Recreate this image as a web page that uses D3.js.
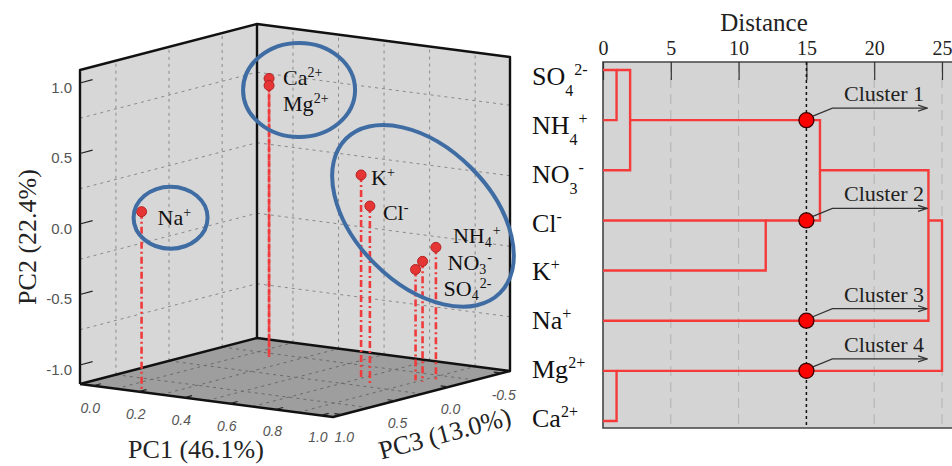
<!DOCTYPE html>
<html>
<head>
<meta charset="utf-8">
<script src="https://cdn.jsdelivr.net/npm/d3@7"></script>
<style>
body { margin: 0; background: #fff; }
svg { display: block; }
</style>
</head>
<body>
<script>
// Data {{{1
// PCA loadings, one entry per ion
const ionBase = ["Na", "Ca", "Mg", "K", "Cl", "NH", "NO", "SO"];
const ionSub  = ["", "", "", "", "", "4", "3", "4"];
const ionSup  = ["+", "2+", "2+", "+", "-", "+", "-", "2-"];
const pc1 = [0.19, 0.19, 0.19, 0.72, 0.81, 0.96, 0.92, 0.88];
const pc2 = [0.13, 0.84, 0.79, 0.32, 0.14, -0.18, -0.28, -0.35];
const pc3 = [1.04, -0.16, -0.16, 0.11, 0.22, -0.08, -0.04, -0.06];
const pc1Ticks = [0.0, 0.2, 0.4, 0.6, 0.8, 1.0];
const pc2Ticks = [-1.0, -0.5, 0.0, 0.5, 1.0];
const pc3Ticks = [1.0, 0.5, 0.0, -0.5];
const pc1Grid = [0.1, 0.3, 0.5, 0.7, 0.9];
const pc2Grid = [-0.75, -0.25, 0.25, 0.75];
const pc3Grid = [0.75, 0.25, -0.25];
const ionGroups = [[0], [1, 2], [3, 4, 5, 6, 7]];

// dendrogram, leaves top to bottom; merges are [child, child, distance], new nodes numbered from 8
const leafBase = ["SO", "NH", "NO", "Cl", "K", "Na", "Mg", "Ca"];
const leafSub  = ["4", "4", "3", "", "", "", "", ""];
const leafSup  = ["2-", "+", "-", "-", "+", "+", "2+", "2+"];
const merges = [[0, 1, 1.0], [8, 2, 2.0], [3, 4, 12.0], [9, 10, 16.0], [11, 5, 24.0], [6, 7, 1.0], [12, 13, 25.0]];
const distTicks = [0, 5, 10, 15, 20, 25];
const cutDistance = 15;
const clusterNames = ["Cluster 1", "Cluster 2", "Cluster 3", "Cluster 4"];

// Setup {{{1
const W = 952, H = 466;
const SERIF = "'Liberation Serif', 'Times New Roman', serif";
const SANS = "'Liberation Sans', Arial, sans-serif";
const svg = d3.select("body").append("svg").attr("width", W).attr("height", H);

svg.append("defs").append("marker")
    .attr("id", "arrow")
    .attr("viewBox", [0, 0, 10, 8])
    .attr("refX", 9).attr("refY", 4)
    .attr("markerWidth", 10).attr("markerHeight", 8)
    .attr("markerUnits", "userSpaceOnUse")
    .attr("orient", "auto")
    .append("path")
    .attr("d", "M0,1 L9,4 L0,7")
    .attr("fill", "none").attr("stroke", "#333").attr("stroke-width", 1.2);

// base text, then subscript and superscript; subDy / supDy are relative to the main baseline
function ionText(sel, base, sub, sup, small, subDy, supDy) {
    sel.append("tspan").text(base);
    if (sub) sel.append("tspan").attr("font-size", small).attr("dy", subDy).text(sub);
    if (sup) sel.append("tspan").attr("font-size", small)
        .attr("dx", sub ? 1 : 0)
        .attr("dy", sub ? supDy - subDy : supDy).text(sup);
}

// 3D scatter {{{1
// oblique box: origin = (PC1 min, PC2 min, PC3 max), unit edges U (PC1), V (PC3), height (PC2)
const O = [80, 384], U = [253, 33], V = [177, -46], BOXH = 314;
const sA = d3.scaleLinear().domain([-0.058, 1.053]).range([0, 1]);
const sB = d3.scaleLinear().domain([-1.135, 1.092]).range([0, 1]);
const sC = d3.scaleLinear().domain([1.088, -0.578]).range([0, 1]);
function proj(a, b, c) {
    return [O[0] + a * U[0] + c * V[0], O[1] + a * U[1] + c * V[1] - b * BOXH];
}
function unit(v) { const l = Math.hypot(v[0], v[1]); return [v[0] / l, v[1] / l]; }
const line = d3.line();
const g3 = svg.append("g");

// walls and floor
g3.append("path").attr("d", line([proj(0,0,0), proj(0,0,1), proj(0,1,1), proj(0,1,0)]) + "Z").attr("fill", "#d7d7d7");
g3.append("path").attr("d", line([proj(0,0,1), proj(1,0,1), proj(1,1,1), proj(0,1,1)]) + "Z").attr("fill", "#d7d7d7");
g3.append("path").attr("d", line([proj(0,0,0), proj(1,0,0), proj(1,0,1), proj(0,0,1)]) + "Z").attr("fill", "#9e9e9e");

// dashed grid
const wallGrid = [], floorGrid = [];
pc3Grid.forEach(v => { const c = sC(v);
    wallGrid.push([proj(0,0,c), proj(0,1,c)]); floorGrid.push([proj(0,0,c), proj(1,0,c)]); });
pc1Grid.forEach(v => { const a = sA(v);
    wallGrid.push([proj(a,0,1), proj(a,1,1)]); floorGrid.push([proj(a,0,0), proj(a,0,1)]); });
pc2Grid.forEach(v => { const b = sB(v);
    wallGrid.push([proj(0,b,0), proj(0,b,1)], [proj(0,b,1), proj(1,b,1)]); });
g3.selectAll(".wgrid").data(wallGrid).join("path")
    .attr("d", d => line(d)).attr("fill", "none")
    .attr("stroke", "#8a8a8a").attr("stroke-width", 1).attr("stroke-dasharray", "3,4");
g3.selectAll(".fgrid").data(floorGrid).join("path")
    .attr("d", d => line(d)).attr("fill", "none")
    .attr("stroke", "#6a6a6a").attr("stroke-width", 1).attr("stroke-dasharray", "3,4");

// box edges
const edgeStyle = s => s.attr("fill", "none").attr("stroke", "#111").attr("stroke-width", 2.4).attr("stroke-linejoin", "round");
g3.append("path").attr("d", line([proj(0,0,0), proj(0,1,0), proj(0,1,1), proj(1,1,1), proj(1,0,1), proj(1,0,0), proj(0,0,0)])).call(edgeStyle);
g3.append("path").attr("d", line([proj(0,0,0), proj(0,0,1), proj(1,0,1)])).call(edgeStyle);
g3.append("path").attr("d", line([proj(0,0,1), proj(0,1,1)])).call(edgeStyle);

// ticks and tick labels
const uV = unit(V), uU = unit(U);
const tickStyle = s => s.attr("stroke", "#222").attr("stroke-width", 1.2);
pc2Ticks.forEach(v => {
    const p = proj(0, sB(v), 0);
    g3.append("line").attr("x1", p[0]).attr("y1", p[1]).attr("x2", p[0] + 13 * uV[0]).attr("y2", p[1] + 13 * uV[1]).call(tickStyle);
    g3.append("text").attr("x", p[0] - 8).attr("y", p[1] + 10)
        .attr("text-anchor", "end").attr("font-family", SANS).attr("font-size", 15).attr("fill", "#555")
        .text(v.toFixed(1));
});
pc1Ticks.forEach(v => {
    const p = proj(sA(v), 0, 0);
    g3.append("line").attr("x1", p[0]).attr("y1", p[1]).attr("x2", p[0] + 8 * uV[0]).attr("y2", p[1] + 8 * uV[1]).call(tickStyle);
    g3.append("text").attr("x", p[0] - 3).attr("y", p[1] + 27)
        .attr("text-anchor", "middle").attr("font-family", SANS).attr("font-style", "italic")
        .attr("font-size", 14).attr("fill", "#555").text(v.toFixed(1));
});
pc3Ticks.forEach(v => {
    const p = proj(1, 0, sC(v));
    g3.append("line").attr("x1", p[0]).attr("y1", p[1]).attr("x2", p[0] - 8 * uU[0]).attr("y2", p[1] - 8 * uU[1]).call(tickStyle);
    g3.append("text").attr("x", p[0] + 2).attr("y", p[1] + 27)
        .attr("text-anchor", "middle").attr("font-family", SANS).attr("font-style", "italic")
        .attr("font-size", 14).attr("fill", "#555").text(v.toFixed(1));
});

// axis titles
g3.append("text").attr("transform", "translate(36,237) rotate(-90)")
    .attr("text-anchor", "middle").attr("font-family", SERIF).attr("font-size", 26).attr("fill", "#222").text("PC2 (22.4%)");
g3.append("text").attr("x", 196).attr("y", 458)
    .attr("text-anchor", "middle").attr("font-family", SERIF).attr("font-size", 26).attr("fill", "#222").text("PC1 (46.1%)");
g3.append("text").attr("transform", "translate(447,442) rotate(-15)")
    .attr("text-anchor", "middle").attr("font-family", SERIF).attr("font-size", 26).attr("fill", "#222").text("PC3 (13.0%)");

// points with drop lines
const pts = ionBase.map((name, i) => ({
    i,
    top: proj(sA(pc1[i]), sB(pc2[i]), sC(pc3[i])),
    foot: proj(sA(pc1[i]), 0, sC(pc3[i]))
}));
g3.selectAll(".drop").data(pts).join("line")
    .attr("x1", d => d.top[0]).attr("y1", d => d.top[1])
    .attr("x2", d => d.foot[0]).attr("y2", d => d.foot[1])
    .attr("stroke", "#ef3b3b").attr("stroke-width", 2.6).attr("stroke-dasharray", "7,3,2,3");
g3.selectAll(".pt").data(pts).join("circle")
    .attr("cx", d => d.top[0]).attr("cy", d => d.top[1]).attr("r", 5)
    .attr("fill", "#e63535").attr("stroke", "#b52222").attr("stroke-width", 1);

// label offsets from each point
const labelOffset = [[16, 13], [14, 7], [14, 26], [10, 10], [13, 14], [17, -4], [25, 9], [28, 27]];
pts.forEach(d => {
    const t = g3.append("text")
        .attr("x", d.top[0] + labelOffset[d.i][0]).attr("y", d.top[1] + labelOffset[d.i][1])
        .attr("font-family", SERIF).attr("font-size", 22).attr("fill", "#111");
    ionText(t, ionBase[d.i], ionSub[d.i], ionSup[d.i], 14, 4, -8);
});

// group ellipses: offset from centroid, radii, rotation
const ellipseShape = [[29, 6, 37, 31, 0], [30, 8, 56, 47, 0], [22, -16, 109, 68, 45]];
ionGroups.forEach((grp, k) => {
    const cx = d3.mean(grp, i => pts[i].top[0]) + ellipseShape[k][0];
    const cy = d3.mean(grp, i => pts[i].top[1]) + ellipseShape[k][1];
    g3.append("ellipse")
        .attr("transform", `translate(${cx},${cy}) rotate(${ellipseShape[k][4]})`)
        .attr("rx", ellipseShape[k][2]).attr("ry", ellipseShape[k][3])
        .attr("fill", "none").attr("stroke", "#3e6ca3").attr("stroke-width", 4);
});

// Dendrogram {{{1
const PTOP = 62, PBOT = 428, PLEFT = 603;
const xD = d3.scaleLinear().domain([0, 25]).range([PLEFT, 942]);
const yD = d3.scaleLinear().domain([0, leafBase.length - 1]).range([70, 421]);
const yLab = d3.scaleLinear().domain([0, leafBase.length - 1]).range([85, 427]);
const gd = svg.append("g");

gd.append("rect").attr("x", PLEFT).attr("y", PTOP).attr("width", W - PLEFT + 10).attr("height", PBOT - PTOP).attr("fill", "#d4d4d4");
gd.selectAll(".dgrid").data(distTicks.filter(t => t > 0 && t !== cutDistance)).join("line")
    .attr("x1", d => xD(d)).attr("x2", d => xD(d)).attr("y1", PTOP).attr("y2", PBOT)
    .attr("stroke", "#b2b2b2").attr("stroke-width", 1).attr("stroke-dasharray", "10,6");
gd.append("path").attr("d", `M${W + 5},${PTOP}H${PLEFT}V${PBOT}H${W + 5}`)
    .attr("fill", "none").attr("stroke", "#444").attr("stroke-width", 1.6);

const axis = gd.append("g").attr("transform", `translate(0,${PTOP})`)
    .call(d3.axisTop(xD).tickValues(distTicks).tickSizeInner(-18).tickSizeOuter(0).tickPadding(7));
axis.select(".domain").remove();
axis.selectAll(".tick line").attr("stroke", "#333").attr("stroke-width", 1.2);
axis.selectAll(".tick text").attr("font-family", SERIF).attr("font-size", 20).attr("fill", "#222");
gd.append("text").attr("x", 764).attr("y", 31).attr("text-anchor", "middle")
    .attr("font-family", SERIF).attr("font-size", 25).attr("fill", "#222").text("Distance");

// leaf labels
leafBase.forEach((name, i) => {
    const t = gd.append("text").attr("x", 532).attr("y", yLab(i))
        .attr("font-family", SERIF).attr("font-size", 26).attr("fill", "#111");
    ionText(t, name, leafSub[i], leafSup[i], 16, 11, -10);
});

// nodes: merged row sits at the upper of the two middle rows
const nodes = leafBase.map((_, i) => ({ row: i, dist: 0 }));
merges.forEach(([l, r, d]) => {
    nodes.push({ row: Math.floor((nodes[l].row + nodes[r].row) / 2), dist: d, kids: [l, r] });
    nodes[l].parent = nodes.length - 1;
    nodes[r].parent = nodes.length - 1;
});
const segs = [];
nodes.filter(n => n.kids).forEach(n => {
    const [k1, k2] = n.kids.map(k => nodes[k]);
    segs.push([[xD(k1.dist), yD(k1.row)], [xD(n.dist), yD(k1.row)], [xD(n.dist), yD(k2.row)], [xD(k2.dist), yD(k2.row)]]);
});
gd.selectAll(".link").data(segs).join("path")
    .attr("d", d => line(d))
    .attr("fill", "none").attr("stroke", "#f53a3a").attr("stroke-width", 2.4);

// cut line
gd.append("line").attr("x1", xD(cutDistance)).attr("x2", xD(cutDistance)).attr("y1", PTOP).attr("y2", PBOT)
    .attr("stroke", "#111").attr("stroke-width", 1.5).attr("stroke-dasharray", "3,3");

// clusters crossing the cut
const cut = nodes.filter(n => n.parent !== undefined && n.dist < cutDistance && nodes[n.parent].dist > cutDistance)
    .sort((a, b) => a.row - b.row);
cut.forEach((n, k) => {
    const cx = xD(cutDistance), cy = yD(n.row), ay = cy - 12;
    gd.append("path").attr("d", `M${cx + 4},${cy - 3}L${cx + 26},${ay}L${xD(23.9)},${ay}`)
        .attr("fill", "none").attr("stroke", "#333").attr("stroke-width", 1.2).attr("marker-end", "url(#arrow)");
    gd.append("text").attr("x", 884).attr("y", ay - 7).attr("text-anchor", "middle")
        .attr("font-family", SERIF).attr("font-size", 22).attr("fill", "#222").text(clusterNames[k]);
    gd.append("circle").attr("cx", cx).attr("cy", cy).attr("r", 7.5)
        .attr("fill", "#f00").attr("stroke", "#3a0000").attr("stroke-width", 1.3);
});
</script>
</body>
</html>
